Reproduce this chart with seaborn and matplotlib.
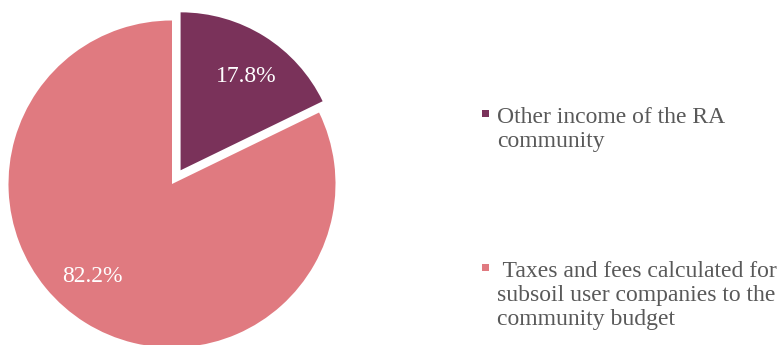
import matplotlib
matplotlib.use("Agg")
import matplotlib.pyplot as plt
from matplotlib.patches import Rectangle
import seaborn as sns

sns.set_theme(style="white")
plt.rcParams["font.family"] = ["Liberation Serif", "DejaVu Serif"]

categories = ["Other income of the RA\ncommunity",
              " Taxes and fees calculated for\nsubsoil user companies to the\ncommunity budget"]
shares = [17.8, 82.2]
colors = ["#7A325A", "#E07A80"]
explode = [0.099, 0.0]

# Percentage label anchors (axes data units, baseline-aligned)
label_xy = [(0.453, 0.626), (-0.486, -0.598)]

W, H = 784, 345
fig = plt.figure(figsize=(W / 100, H / 100), dpi=100)

# Pie axes, placed in pixel units
cx, cy, r = 172, 184, 163.5
ax = fig.add_axes([(cx - r) / W, (H - cy - r) / H, 2 * r / W, 2 * r / H])
wedges, texts, autotexts = ax.pie(
    shares, colors=colors, startangle=90, counterclock=False,
    explode=explode, autopct="%.1f%%",
    textprops=dict(color="white", fontsize=17),
    wedgeprops=dict(linewidth=0),
)
# the pulled-out slice is drawn slightly smaller
wedges[0].set_radius(0.966)
for w in wedges:
    w.set_clip_on(False)
for t, (x, y) in zip(autotexts, label_xy):
    t.set_position((x, y))
    t.set_verticalalignment("baseline")
ax.set_xlim(-1, 1)
ax.set_ylim(-1, 1)
ax.set_aspect("equal")
ax.axis("off")

# Legend: square markers aligned with the first line of each label
first_baselines = [122, 275]
line_step = 25
for label, color, base in zip(categories, colors, first_baselines):
    fig.add_artist(Rectangle((482 / W, (H - base + 4.5) / H), 7 / W, 7 / H,
                             transform=fig.transFigure, color=color, lw=0))
    # multi-line text with va="baseline" anchors the last line
    last = base + line_step * label.count("\n")
    fig.text(497 / W, (H - last) / H, label, color="#595959",
             fontsize=17, va="baseline", ha="left", linespacing=1.2)

fig.savefig("out.png", dpi=100)
